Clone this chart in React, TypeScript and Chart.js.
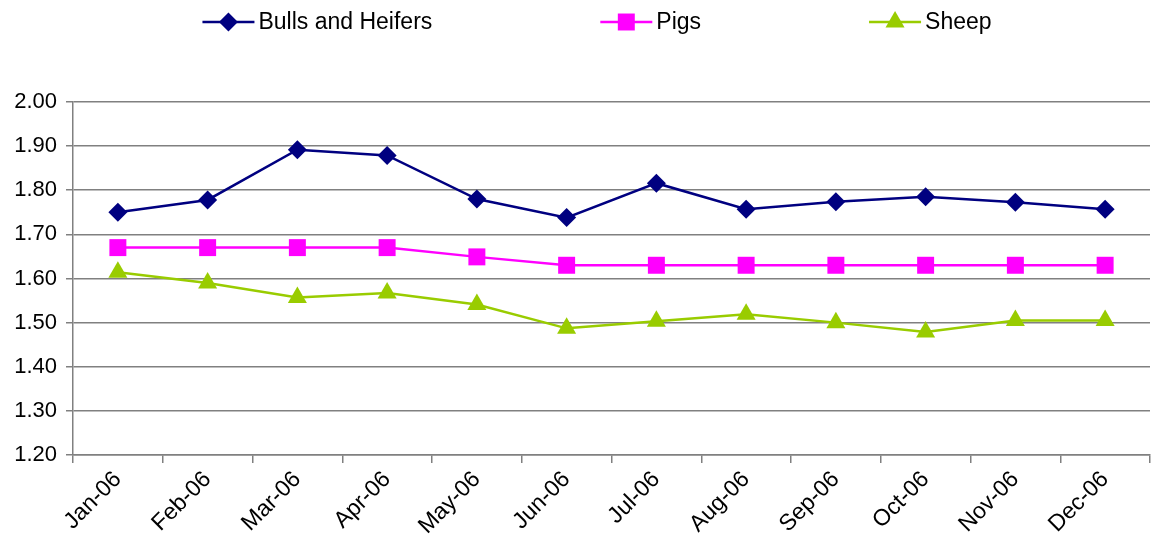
import React, { useEffect, useRef } from "react";
import { Chart, registerables } from "chart.js";

Chart.register(...registerables);

const categories = ["Jan-06", "Feb-06", "Mar-06", "Apr-06", "May-06", "Jun-06", "Jul-06", "Aug-06", "Sep-06", "Oct-06", "Nov-06", "Dec-06"];
const seriesNames = ["Bulls and Heifers", "Pigs", "Sheep"];
const bulls = [1.75, 1.778, 1.892, 1.879, 1.78, 1.738, 1.816, 1.757, 1.774, 1.785, 1.773, 1.757];
const pigs = [1.67, 1.67, 1.67, 1.67, 1.649, 1.63, 1.63, 1.63, 1.63, 1.63, 1.63, 1.63];
const sheep = [1.614, 1.59, 1.557, 1.567, 1.541, 1.487, 1.503, 1.519, 1.5, 1.479, 1.505, 1.505];
const yMin = 1.2;
const yMax = 2.0;
const yStep = 0.1;

const FONT = "'Liberation Sans', Arial, sans-serif";

function drawMarker(ctx: CanvasRenderingContext2D, style: string, r: number, x: number, y: number) {
  ctx.beginPath();
  if (style === "rectRot") {
    ctx.moveTo(x, y - r);
    ctx.lineTo(x + r, y);
    ctx.lineTo(x, y + r);
    ctx.lineTo(x - r, y);
  } else if (style === "rect") {
    const s = r * Math.SQRT1_2;
    ctx.rect(x - s, y - s, 2 * s, 2 * s);
  } else if (style === "triangle") {
    ctx.moveTo(x, y - r);
    ctx.lineTo(x + 0.866 * r, y + 0.5 * r);
    ctx.lineTo(x - 0.866 * r, y + 0.5 * r);
  }
  ctx.closePath();
  ctx.fill();
}

const legendPlugin = {
  id: "lineLegend",
  afterDraw(chart: any) {
    const ctx = chart.ctx;
    const lineLen = 52;
    const textGap = 4;
    const itemGap = 168;
    const y = 22;
    ctx.save();
    ctx.font = `23px ${FONT}`;
    const items = chart.data.datasets.map((ds: any) => ({
      ds,
      w: lineLen + textGap + ctx.measureText(ds.label).width,
    }));
    const total = items.reduce((s: number, it: any) => s + it.w, 0) + itemGap * (items.length - 1);
    let x = chart.width / 2 + 21 - total / 2;
    items.forEach((it: any) => {
      const ds = it.ds;
      ctx.strokeStyle = ds.borderColor;
      ctx.lineWidth = 2.5;
      ctx.beginPath();
      ctx.moveTo(x, y);
      ctx.lineTo(x + lineLen, y);
      ctx.stroke();
      ctx.fillStyle = ds.pointBackgroundColor;
      drawMarker(ctx, ds.pointStyle, ds.pointRadius, x + lineLen / 2, y);
      ctx.fillStyle = "#000";
      ctx.textBaseline = "middle";
      ctx.textAlign = "left";
      ctx.fillText(ds.label, x + lineLen + textGap, y + 1);
      x += it.w + itemGap;
    });
    ctx.restore();
  },
};

export default function App() {
  const ref = useRef<HTMLCanvasElement | null>(null);
  useEffect(() => {
    if (!ref.current) return;
    const mk = (label: string, data: number[], color: string, style: string, radius: number) => ({
      label,
      data,
      borderColor: color,
      backgroundColor: color,
      pointBackgroundColor: color,
      pointBorderColor: color,
      pointStyle: style,
      pointRadius: radius,
      pointHoverRadius: radius,
      pointBorderWidth: 0,
      borderWidth: 2.5,
      tension: 0,
      fill: false,
      clip: false,
    });
    const chart = new Chart(ref.current, {
      type: "line",
      data: {
        labels: categories,
        datasets: [
          mk(seriesNames[0], bulls, "#000080", "rectRot", 9.5),
          mk(seriesNames[1], pigs, "#FF00FF", "rect", 12),
          mk(seriesNames[2], sheep, "#99CC00", "triangle", 11),
        ],
      },
      options: {
        animation: false,
        responsive: false,
        maintainAspectRatio: false,
        devicePixelRatio: 1,
        layout: { autoPadding: false, padding: { top: 102, right: 2, left: 0, bottom: 0 } },
        plugins: {
          legend: { display: false },
          tooltip: { enabled: false },
        },
        scales: {
          x: {
            offset: true,
            grid: {
              offset: true,
              drawOnChartArea: false,
              drawTicks: true,
              tickLength: 8,
              color: "#808080",
              lineWidth: 1.5,
            },
            border: { color: "#808080", width: 1.5 },
            ticks: {
              autoSkip: false,
              maxRotation: 45,
              minRotation: 45,
              padding: 3,
              color: "#000",
              font: { family: FONT, size: 23 },
            },
            afterFit(scale: any) {
              scale.height = 97;
              scale.paddingLeft = 0;
              scale.paddingRight = 0;
            },
          },
          y: {
            min: yMin,
            max: yMax,
            ticks: {
              stepSize: yStep,
              color: "#000",
              padding: 9,
              font: { family: FONT, size: 22 },
              callback: (v: any) => Number(v).toFixed(2),
            },
            grid: {
              color: "#808080",
              lineWidth: 1.5,
              tickLength: 7,
            },
            border: { color: "#808080", width: 1.5 },
            afterFit(scale: any) {
              scale.width = 73;
              scale.paddingTop = 0;
              scale.paddingBottom = 0;
            },
          },
        },
      },
      plugins: [legendPlugin],
    } as any);
    return () => chart.destroy();
  }, []);
  return (
    <div style={{ position: "fixed", left: 0, top: 0, width: 1152, height: 552, background: "#fff" }}>
      <canvas ref={ref} width={1152} height={552} style={{ width: 1152, height: 552, display: "block" }} />
    </div>
  );
}
